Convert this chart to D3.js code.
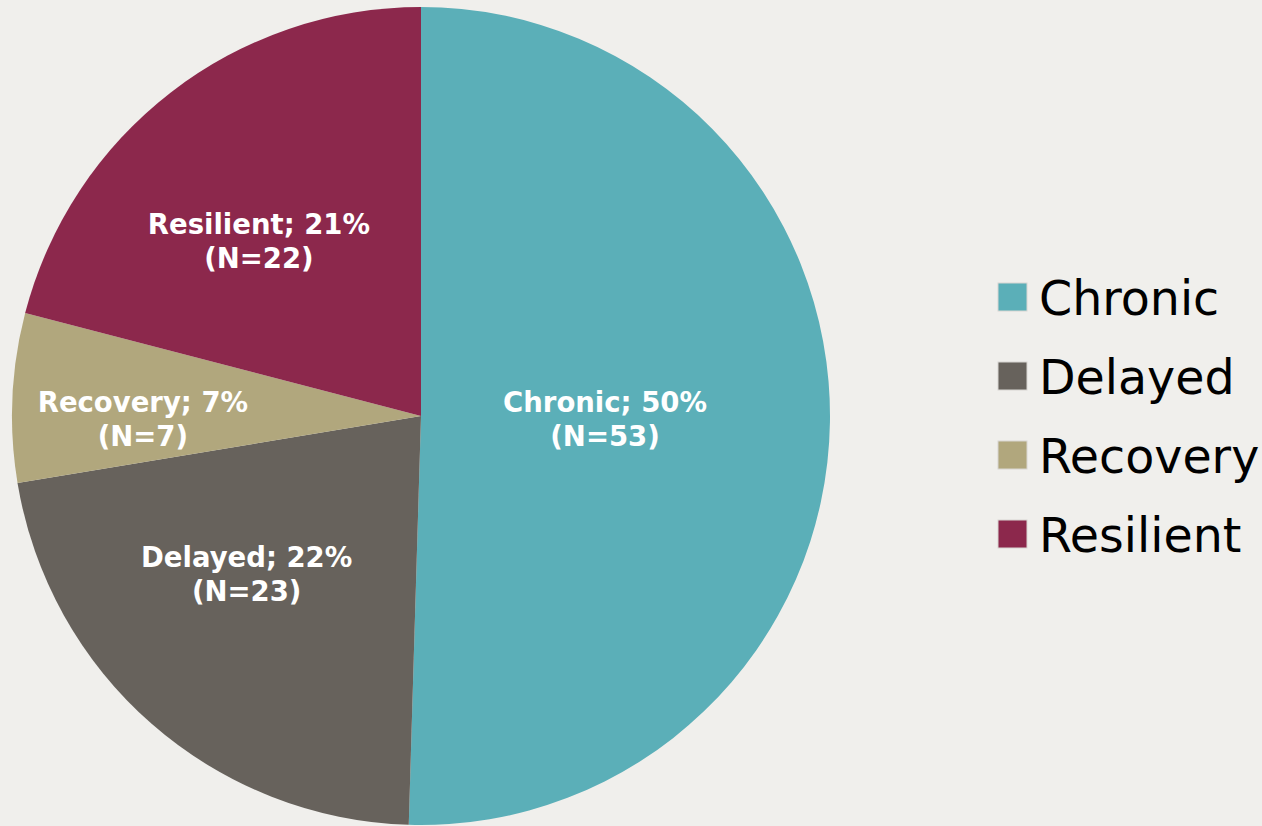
<!DOCTYPE html>
<html>
<head>
<meta charset="utf-8">
<script src="https://cdn.jsdelivr.net/npm/d3@7"></script>
<style>
  html, body { margin: 0; padding: 0; background: #f0efec; }
  svg { display: block; }
</style>
</head>
<body>
<div id="container"></div>
<script>
const width = 1262;
const height = 826;

// data
const categories = ['Chronic', 'Delayed', 'Recovery', 'Resilient'];
const counts = [53, 23, 7, 22];
const colors = ['#5bafb8', '#67625c', '#b1a77d', '#8c284c'];

// label placement (excel "best fit"): fraction of radius, angle nudge in degrees
const labelPos = {
    Chronic: [0.45, 0],
    Delayed: [0.575, 6.7],
    Recovery: [0.68, -3.2],
    Resilient: [0.583, -5.1]
};

const cx = 421;
const cy = 416;
const radius = 409;

const svg = d3.select('#container').append('svg')
    .attr('width', width)
    .attr('height', height);

const total = d3.sum(counts);
const rows = categories.map((c, i) => ({ name: c, n: counts[i] }));

const color = d3.scaleOrdinal().domain(categories).range(colors);

const pie = d3.pie()
    .sort(null)
    .value(d => d.n);

const arc = d3.arc().innerRadius(0).outerRadius(radius);

const g = svg.append('g').attr('transform', `translate(${cx},${cy})`);

const slices = pie(rows);

g.selectAll('path.slice')
    .data(slices)
    .join('path')
    .attr('class', 'slice')
    .attr('d', arc)
    .attr('fill', d => color(d.data.name));

const labels = g.selectAll('text.lbl')
    .data(slices)
    .join('text')
    .attr('class', 'lbl')
    .attr('transform', d => {
        const [f, nudge] = labelPos[d.data.name];
        const r = radius * f;
        const a = (d.startAngle + d.endAngle) / 2 + nudge * Math.PI / 180;
        return `translate(${Math.sin(a) * r},${-Math.cos(a) * r})`;
    })
    .attr('text-anchor', 'middle')
    .attr('fill', '#fff')
    .attr('font-family', '"DejaVu Sans", Verdana, sans-serif')
    .attr('font-weight', 'bold')
    .attr('font-size', 27.5);

labels.append('tspan')
    .attr('x', 0)
    .attr('y', -7)
    .text(d => d.data.name + '; ' + Math.round(d.data.n / total * 100) + '%');

labels.append('tspan')
    .attr('x', 0)
    .attr('y', 27)
    .text(d => '(N=' + d.data.n + ')');

// legend
const legend = svg.append('g').attr('transform', 'translate(998,283)');

const item = legend.selectAll('g')
    .data(categories)
    .join('g')
    .attr('transform', (d, i) => `translate(0,${i * 79})`);

item.append('rect')
    .attr('width', 29)
    .attr('height', 28)
    .attr('fill', d => color(d))
    .attr('stroke', '#d8d6d2')
    .attr('stroke-width', 1);

item.append('text')
    .attr('x', 41)
    .attr('y', 32)
    .attr('font-family', '"DejaVu Sans", Verdana, sans-serif')
    .attr('font-size', 47.5)
    .attr('fill', '#000')
    .text(d => d);
</script>
</body>
</html>
